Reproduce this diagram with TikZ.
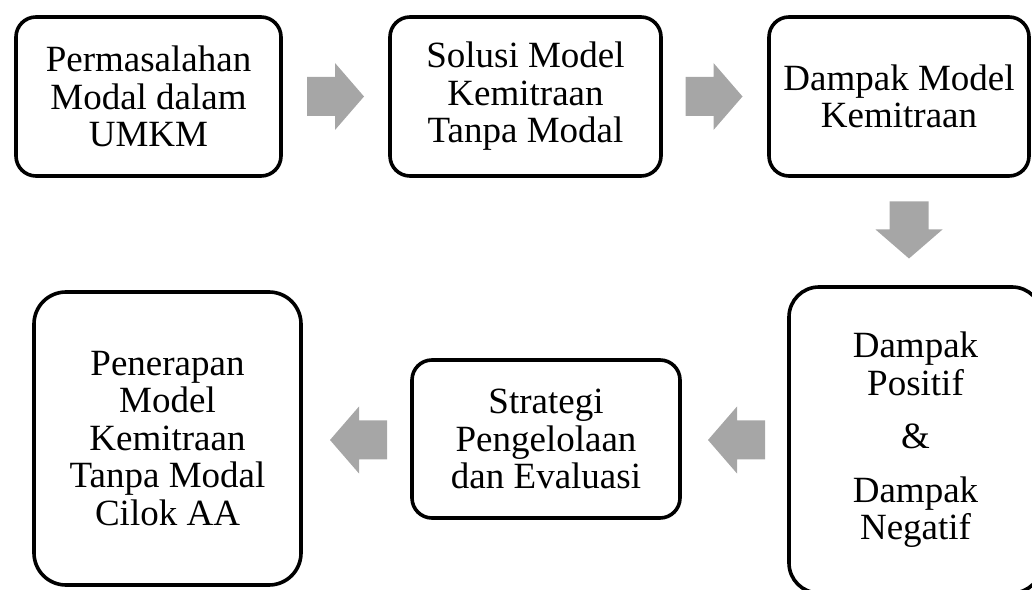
\documentclass[tikz,border=0pt]{standalone}
\usepackage{fontspec}
\setmainfont{Liberation Serif}
\usepackage{tikz}
\definecolor{arrowgray}{RGB}{166,166,166}

\begin{document}
\begin{tikzpicture}[x=1pt,y=1pt]
\tikzstyle{box}=[draw=black, line width=3.6pt, rounded corners=20pt, align=center, inner sep=0pt, font=\fontsize{37}{37.5}\selectfont]
\tikzset{blockarrow/.pic={\fill[arrowgray] (-28.5,-19.5) -- (-0.5,-19.5) -- (-0.5,-33.5) -- (28.5,0) -- (-0.5,33.5) -- (-0.5,19.5) -- (-28.5,19.5) -- cycle;}}
\useasboundingbox (0,0) rectangle (1032,589);
\clip (0,0) rectangle (1032,589);
% top row
\node [box, minimum width=265pt, minimum height=159pt] (b1) at (148.5,492.5) {Permasalahan\\Modal dalam\\UMKM};
\node [box, minimum width=271pt, minimum height=159pt] (b2) at (525.5,492.5) {Solusi Model\\Kemitraan\\Tanpa Modal};
\node [box, minimum width=260pt, minimum height=159pt] (b3) at (899,492.5) {Dampak Model\\Kemitraan};
% bottom row
\node [box, rounded corners=30pt, minimum width=253pt, minimum height=306pt] (b4) at (915.5,149) {Dampak\\Positif\\[16pt]\&\\[16pt]Dampak\\Negatif};
\node [box, minimum width=268pt, minimum height=158pt] (b5) at (546,150) {Strategi\\Pengelolaan\\dan Evaluasi};
\node [box, rounded corners=32pt, minimum width=267pt, minimum height=293pt] (b6) at (167.5,150.5) {Penerapan\\Model\\Kemitraan\\Tanpa Modal\\Cilok AA};
% arrows
\pic (a1) at (335.5,492.5) {blockarrow};
\pic (a2) at (714,492.5) {blockarrow};
\pic [rotate=-90] (a3) at (909,359) {blockarrow};
\pic [rotate=180] (a4) at (736.5,149) {blockarrow};
\pic [rotate=180] (a5) at (358.5,149) {blockarrow};
\end{tikzpicture}
\end{document}
